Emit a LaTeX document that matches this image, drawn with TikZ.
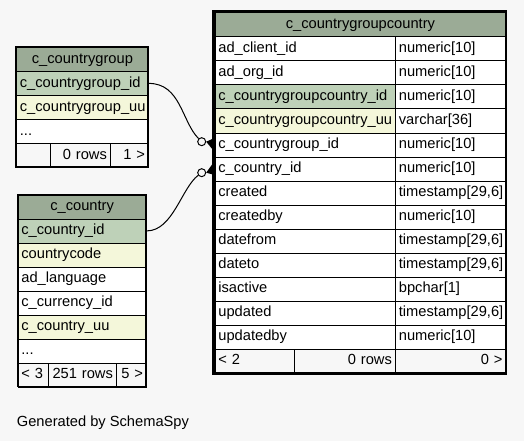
\documentclass[tikz,border=0pt]{standalone}
\usepackage{fontspec}
\setmainfont{Liberation Sans}
\usepackage{tikz}
\usepackage{xcolor}
\usetikzlibrary{calc}
\definecolor{bggray}{HTML}{F7F7F7}
\definecolor{hdrgreen}{HTML}{9BAB96}
\definecolor{pkgreen}{HTML}{BED1B8}
\definecolor{uuyellow}{HTML}{F4F7DA}
\newcommand{\tabfont}{\fontsize{14.67pt}{16pt}\selectfont}
\tikzset{
  cell/.style={draw=black,line width=0.8pt,anchor=north west,minimum height=24pt,inner xsep=3.5pt,inner ysep=0pt,text height=10.5pt,text depth=2.5pt,font=\tabfont,fill=white},
  hdr/.style={cell,fill=hdrgreen},
  pk/.style={cell,fill=pkgreen},
  uu/.style={cell,fill=uuyellow},
  foot/.style={cell,fill=bggray},
  wl/.style={text width=#1,align=left},
  wr/.style={text width=#1,align=right},
  wc/.style={text width=#1,align=center},
  optring/.style={circle,draw=black,line width=1pt,minimum size=8pt,inner sep=0pt},
  fk/.style={line width=1pt}
}
\begin{document}
\begin{tikzpicture}[x=1pt,y=-1pt]
\fill[bggray] (0,0) rectangle (524,441);
\useasboundingbox (0,0) rectangle (524,441);
\node[hdr,wc=125pt] (cg_head) at (16,47) {c\_countrygroup};
\node[pk,wl=125pt] (cg_id) at (16,71) {c\_countrygroup\_id};
\node[uu,wl=125pt] (cg_uu) at (16,95) {c\_countrygroup\_uu};
\node[cell,wl=125pt] (cg_more) at (16,119) {...};
\node[foot,wl=27pt] (cg_prev) at (16,143) {};
\node[foot,wr=53pt] (cg_rows) at (50,143) {0 rows};
\node[foot,wr=31pt] (cg_next) at (110,143) {1 >};
\draw[line width=1.4pt] (16,47) rectangle (148,167);
\node[hdr,wc=121.5pt] (c_head) at (17.5,194.5) {c\_country};
\node[pk,wl=121.5pt] (c_id) at (17.5,218.5) {c\_country\_id};
\node[uu,wl=121.5pt] (c_code) at (17.5,242.5) {countrycode};
\node[cell,wl=121.5pt] (c_lang) at (17.5,266.5) {ad\_language};
\node[cell,wl=121.5pt] (c_curr) at (17.5,290.5) {c\_currency\_id};
\node[uu,wl=121.5pt] (c_uu) at (17.5,314.5) {c\_country\_uu};
\node[cell,wl=121.5pt] (c_more) at (17.5,338.5) {...};
\node[foot,wl=23.5pt] (c_prev) at (17.5,362.5) {< 3};
\node[foot,wr=61pt] (c_rows) at (48,362.5) {251 rows};
\node[foot,wr=23pt] (c_next) at (116,362.5) {5 >};
\draw[line width=1.4pt] (17.5,194.5) rectangle (146,386.5);
\node[hdr,wc=284pt] (cgc_head) at (214.5,12.5) {c\_countrygroupcountry};
\node[cell,wl=173.5pt] (cgc_client) at (214.5,36.5) {ad\_client\_id};
\node[cell,wl=103.5pt] (cgc_client_t) at (395,36.5) {numeric[10]};
\node[cell,wl=173.5pt] (cgc_org) at (214.5,60.5) {ad\_org\_id};
\node[cell,wl=103.5pt] (cgc_org_t) at (395,60.5) {numeric[10]};
\node[pk,wl=173.5pt] (cgc_id) at (214.5,84.5) {c\_countrygroupcountry\_id};
\node[cell,wl=103.5pt] (cgc_id_t) at (395,84.5) {numeric[10]};
\node[uu,wl=173.5pt] (cgc_uu) at (214.5,108.5) {c\_countrygroupcountry\_uu};
\node[cell,wl=103.5pt] (cgc_uu_t) at (395,108.5) {varchar[36]};
\node[cell,wl=173.5pt] (cgc_grp) at (214.5,132.5) {c\_countrygroup\_id};
\node[cell,wl=103.5pt] (cgc_grp_t) at (395,132.5) {numeric[10]};
\node[cell,wl=173.5pt] (cgc_ctry) at (214.5,156.5) {c\_country\_id};
\node[cell,wl=103.5pt] (cgc_ctry_t) at (395,156.5) {numeric[10]};
\node[cell,wl=173.5pt] (cgc_created) at (214.5,180.5) {created};
\node[cell,wl=103.5pt] (cgc_created_t) at (395,180.5) {timestamp[29,6]};
\node[cell,wl=173.5pt] (cgc_createdby) at (214.5,204.5) {createdby};
\node[cell,wl=103.5pt] (cgc_createdby_t) at (395,204.5) {numeric[10]};
\node[cell,wl=173.5pt] (cgc_from) at (214.5,228.5) {datefrom};
\node[cell,wl=103.5pt] (cgc_from_t) at (395,228.5) {timestamp[29,6]};
\node[cell,wl=173.5pt] (cgc_to) at (214.5,252.5) {dateto};
\node[cell,wl=103.5pt] (cgc_to_t) at (395,252.5) {timestamp[29,6]};
\node[cell,wl=173.5pt] (cgc_active) at (214.5,276.5) {isactive};
\node[cell,wl=103.5pt] (cgc_active_t) at (395,276.5) {bpchar[1]};
\node[cell,wl=173.5pt] (cgc_updated) at (214.5,300.5) {updated};
\node[cell,wl=103.5pt] (cgc_updated_t) at (395,300.5) {timestamp[29,6]};
\node[cell,wl=173.5pt] (cgc_updatedby) at (214.5,324.5) {updatedby};
\node[cell,wl=103.5pt] (cgc_updatedby_t) at (395,324.5) {numeric[10]};
\node[foot,wl=72.5pt] (cgc_prev) at (214.5,348.5) {< 2};
\node[foot,wr=94pt] (cgc_rows) at (294,348.5) {0 rows};
\node[foot,wr=103.5pt] (cgc_next) at (395,348.5) {0 >};
\draw[line width=2.6pt] (213.5,11.5) rectangle (506,373.5);
\node[optring] (o1) at (201.7,141.7) {};
\node[optring] (o2) at (201.7,172.7) {};
\draw[fk] (cg_id.east) .. controls +(32,0) and +(-20,-20) .. (o1);
\fill (o1.east) -- ($(cgc_grp.west)+(-2,-6)$) -- ($(cgc_grp.west)+(-2,4.5)$) -- cycle;
\draw[fk] (c_id.east) .. controls +(26,0) and +(-20,15) .. (o2);
\fill (o2.east) -- ($(cgc_ctry.west)+(-2,-5)$) -- ($(cgc_ctry.west)+(-2,5.5)$) -- cycle;
\node[anchor=base west,font=\tabfont,inner sep=0pt] (credit) at (16.7,426.5) {Generated by SchemaSpy};
\end{tikzpicture}
\end{document}
